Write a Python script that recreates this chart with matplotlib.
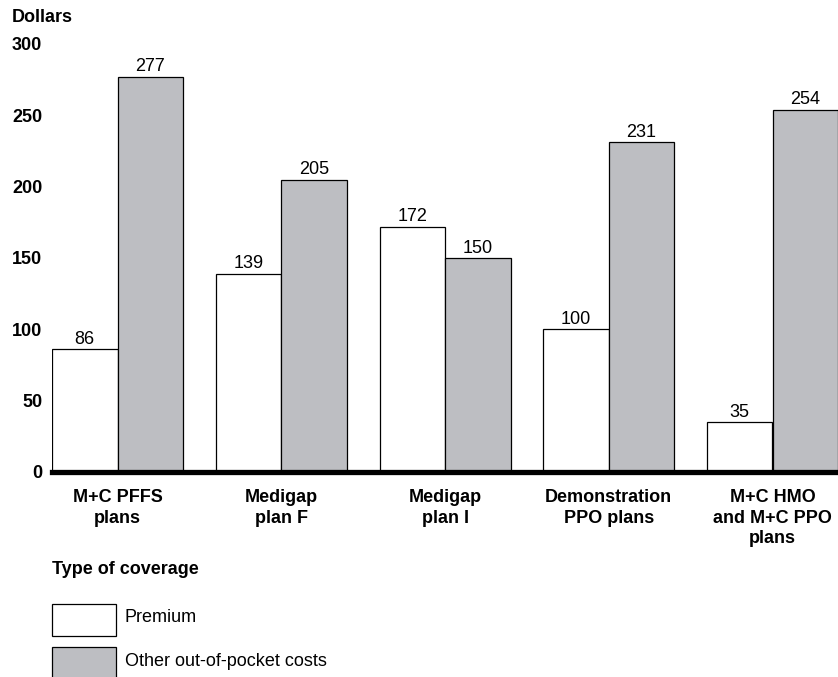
import matplotlib
matplotlib.use("Agg")
import matplotlib.pyplot as plt
from matplotlib.patches import Rectangle
import numpy as np

categories = ["M+C PFFS\nplans", "Medigap\nplan F", "Medigap\nplan I",
              "Demonstration\nPPO plans", "M+C HMO\nand M+C PPO\nplans"]
premium = [86, 139, 172, 100, 35]
other_oop = [277, 205, 150, 231, 254]
yticks = [0, 50, 100, 150, 200, 250, 300]
series_labels = ["Premium", "Other out-of-pocket costs"]

plt.rcParams['font.family'] = ['Liberation Sans', 'DejaVu Sans']
FS = 13
GRAY = '#bdbec2'

W, H = 838, 677
fig = plt.figure(figsize=(W / 100, H / 100), dpi=100)
ax = fig.add_axes([52 / W, (H - 472) / H, (838 - 52) / W, (472 - 44) / H])

x = np.arange(len(categories))
bw = 0.4
b1 = ax.bar(x - bw / 2, premium, bw, color='white', edgecolor='black', linewidth=0.9)
b2 = ax.bar(x + bw / 2, other_oop, bw, color=GRAY, edgecolor='black', linewidth=0.9)
for bars, vals in ((b1, premium), (b2, other_oop)):
    for r, v in zip(bars, vals):
        ax.annotate(str(v), (r.get_x() + r.get_width() / 2, v), xytext=(0, 1),
                    textcoords='offset points', ha='center', va='bottom', fontsize=FS)

ax.set_xlim(-0.4, len(categories) - 1 + 0.4)
ax.set_ylim(0, 300)
ax.set_yticks(yticks)
ax.set_yticklabels([str(t) for t in yticks], fontsize=FS, fontweight='bold')
ax.set_xticks(x)
ax.set_xticklabels(categories, fontsize=FS, fontweight='bold', linespacing=1.3)
ax.tick_params(axis='both', length=0)
ax.tick_params(axis='y', pad=7)
ax.tick_params(axis='x', pad=12)
for s in ax.spines.values():
    s.set_visible(False)
ax.axhline(0, color='black', linewidth=3.8, clip_on=False, zorder=5)
ax.patch.set_alpha(0)

fig.text(12 / W, 1 - 17 / H, "Dollars", fontsize=FS, fontweight='bold', va='center', ha='left')
fig.text(52 / W, 1 - 570 / H, "Type of coverage", fontsize=FS, fontweight='bold', va='center', ha='left')

# legend
for (y0, fc, lab, tx) in ((604, 'white', series_labels[0], 124), (647, GRAY, series_labels[1], 125)):
    fig.patches.append(Rectangle((52 / W, 1 - (y0 + 32) / H), 64 / W, 32 / H,
                                 transform=fig.transFigure, facecolor=fc,
                                 edgecolor='black', linewidth=0.9))
    fig.text(tx / W, 1 - (y0 + 14) / H, lab, fontsize=FS, va='center', ha='left')

fig.savefig("out.png", dpi=100)
